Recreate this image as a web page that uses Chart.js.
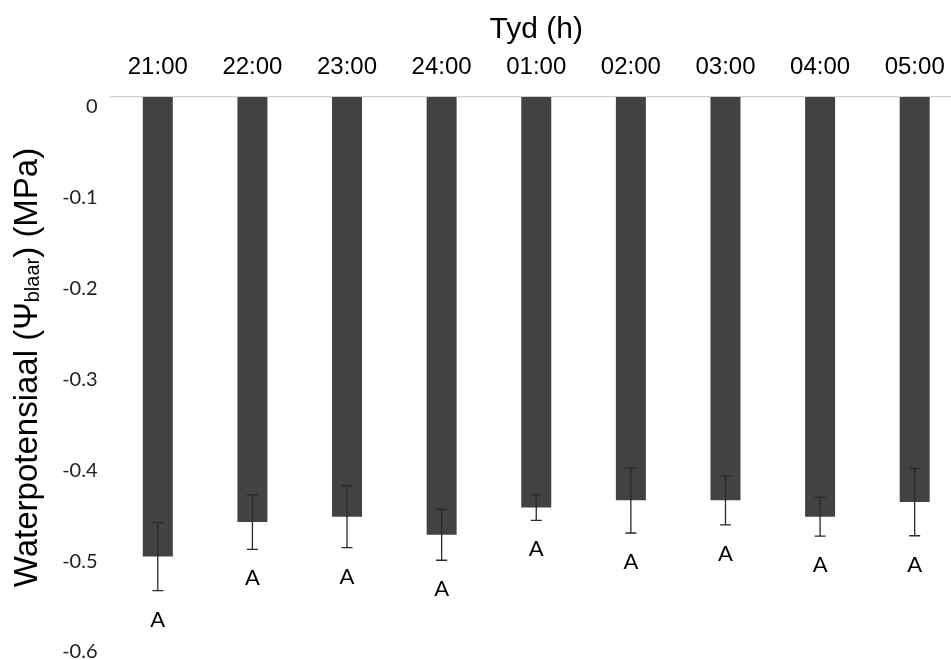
<!DOCTYPE html>
<html>
<head>
<meta charset="utf-8">
<script src="https://cdn.jsdelivr.net/npm/chart.js@4/dist/chart.umd.min.js"></script>
<style>
  html, body { margin: 0; padding: 0; background: #fff; overflow: hidden; }
  #wrap { width: 962px; height: 660px; }
</style>
</head>
<body>
<div id="wrap"><canvas id="c" width="962" height="660"></canvas></div>
<script>
// Leaf water potential through the night, mean ± error per hour
const hours = ['21:00', '22:00', '23:00', '24:00', '01:00', '02:00', '03:00', '04:00', '05:00'];
const meanPotential = [-0.506, -0.468, -0.462, -0.482, -0.452, -0.444, -0.444, -0.462, -0.446];
const errPotential = [0.0375, 0.030, 0.034, 0.028, 0.014, 0.036, 0.027, 0.0215, 0.037];
const groupLetters = ['A', 'A', 'A', 'A', 'A', 'A', 'A', 'A', 'A'];
const yTicks = [0, -0.1, -0.2, -0.3, -0.4, -0.5, -0.6];

const errorBarsAndLetters = {
  id: 'errorBarsAndLetters',
  afterDatasetsDraw(chart) {
    const ctx = chart.ctx;
    const meta = chart.getDatasetMeta(0);
    const ys = chart.scales.y;
    ctx.save();
    ctx.strokeStyle = '#2a2a2a';
    ctx.lineWidth = 1.3;
    meta.data.forEach((bar, i) => {
      const x = bar.x;
      const yHi = ys.getPixelForValue(meanPotential[i] + errPotential[i]);
      const yLo = ys.getPixelForValue(meanPotential[i] - errPotential[i]);
      const cap = 5.5;
      ctx.beginPath();
      ctx.moveTo(x, yHi); ctx.lineTo(x, yLo);
      ctx.moveTo(x - cap, yHi); ctx.lineTo(x + cap, yHi);
      ctx.moveTo(x - cap, yLo); ctx.lineTo(x + cap, yLo);
      ctx.stroke();
      ctx.fillStyle = '#000';
      ctx.font = '22px Lato';
      ctx.textAlign = 'center';
      ctx.textBaseline = 'middle';
      ctx.fillText(groupLetters[i], x, yLo + 29);
    });
    ctx.restore();
  }
};

const yAxisTitle = {
  id: 'yAxisTitle',
  afterDraw(chart) {
    const ctx = chart.ctx;
    const mainFont = '33px "Liberation Sans", Arial, sans-serif';
    const subFont = '20px "Liberation Sans", Arial, sans-serif';
    const parts = [
      { t: 'Waterpotensiaal (\u03A8', f: mainFont, dy: 0 },
      { t: 'blaar', f: subFont, dy: 2 },
      { t: ') (MPa)', f: mainFont, dy: 0 }
    ];
    ctx.save();
    let total = 0;
    parts.forEach(p => { ctx.font = p.f; p.w = ctx.measureText(p.t).width; total += p.w; });
    ctx.translate(37, 367.5);
    ctx.rotate(-Math.PI / 2);
    ctx.fillStyle = '#000';
    ctx.textBaseline = 'alphabetic';
    ctx.textAlign = 'left';
    let x = -total / 2;
    parts.forEach(p => {
      ctx.font = p.f;
      ctx.fillText(p.t, x, p.dy);
      x += p.w;
    });
    ctx.restore();
  }
};

new Chart(document.getElementById('c'), {
  type: 'bar',
  data: {
    labels: hours,
    datasets: [{
      data: meanPotential,
      backgroundColor: '#424242',
      borderWidth: 0,
      categoryPercentage: 1,
      barPercentage: 0.317
    }]
  },
  options: {
    responsive: false,
    animation: false,
    layout: { padding: { left: 0, right: 0, top: 0, bottom: 18 } },
    plugins: { legend: { display: false }, tooltip: { enabled: false } },
    scales: {
      x: {
        position: 'top',
        grid: { display: false, drawTicks: false },
        border: { display: true, color: '#d0d0d0', width: 1.3 },
        ticks: {
          color: '#000',
          padding: 15,
          maxRotation: 0,
          autoSkip: false,
          font: { family: '"Liberation Sans", Arial, sans-serif', size: 24 }
        },
        title: {
          display: true,
          text: 'Tyd (h)',
          color: '#000',
          padding: { top: 12, bottom: 0 },
          font: { family: '"Liberation Sans", Arial, sans-serif', size: 30 }
        },
        afterFit(scale) { scale.height = 97; }
      },
      y: {
        min: -0.6,
        max: 0,
        grid: { display: false, drawTicks: false },
        border: { display: false },
        afterBuildTicks(scale) { scale.ticks = yTicks.map(v => ({ value: v })); },
        ticks: {
          color: '#222',
          padding: 13,
          labelOffset: 10,
          font: { family: 'Lato', size: 20 },
          callback: v => (v === 0 ? '0' : Number(v).toFixed(1))
        },
        afterFit(scale) {
          scale.width = 110.5;
          scale.paddingTop = 0;
          scale.paddingBottom = 0;
        }
      }
    }
  },
  plugins: [errorBarsAndLetters, yAxisTitle]
});
</script>
</body>
</html>
